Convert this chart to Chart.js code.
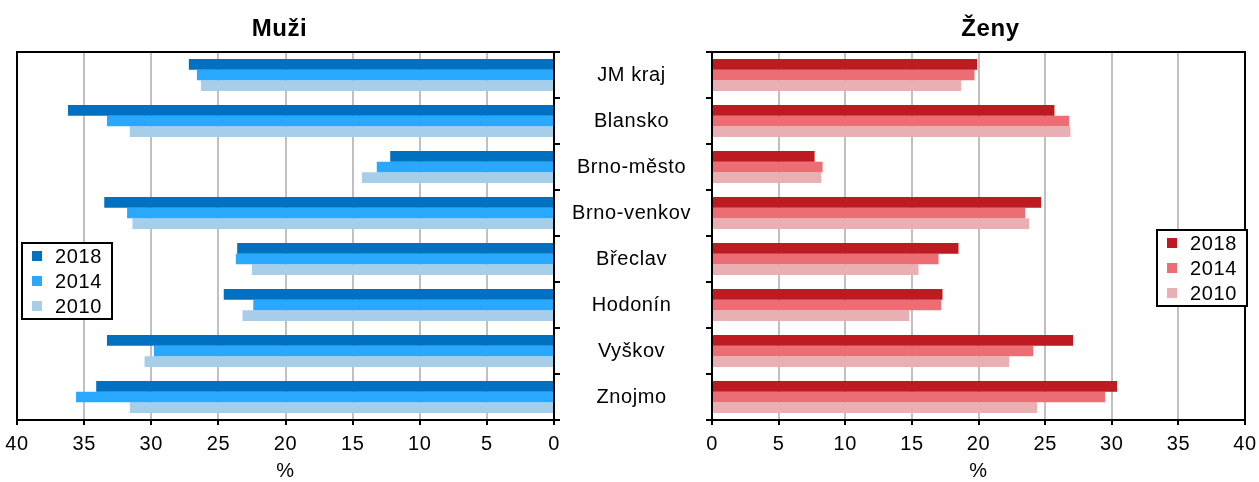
<!DOCTYPE html>
<html>
<head>
<meta charset="utf-8">
<script src="https://cdn.jsdelivr.net/npm/chart.js@4"></script>
<style>
    body { margin: 0; background: #fff; width: 1259px; height: 482px; position: relative; overflow: hidden; }
    .box { position: absolute; top: 0; height: 482px; }
</style>
</head>
<body>
<div class="box" style="left:0; width:575px;"><canvas id="muzi-chart"></canvas></div>
<div class="box" style="left:560px; width:699px;"><canvas id="zeny-chart"></canvas></div>
<script>
    // okresy JM kraje
    const districts = ['JM kraj', 'Blansko', 'Brno-město', 'Brno-venkov', 'Břeclav', 'Hodonín', 'Vyškov', 'Znojmo'];
    const years = ['2018', '2014', '2010'];
    const xTicks = [0, 5, 10, 15, 20, 25, 30, 35, 40];

    // Muži (%)
    const muzi2018 = [27.2, 36.2, 12.2, 33.5, 23.6, 24.6, 33.3, 34.1];
    const muzi2014 = [26.6, 33.3, 13.2, 31.8, 23.7, 22.4, 29.8, 35.6];
    const muzi2010 = [26.3, 31.6, 14.3, 31.4, 22.5, 23.2, 30.5, 31.6];

    // Ženy (%)
    const zeny2018 = [19.9, 25.7, 7.7, 24.7, 18.5, 17.3, 27.1, 30.4];
    const zeny2014 = [19.7, 26.8, 8.3, 23.5, 17.0, 17.2, 24.1, 29.5];
    const zeny2010 = [18.7, 26.9, 8.2, 23.8, 15.5, 14.8, 22.3, 24.4];

    const blueColors = ['#0070c0', '#29a8ff', '#a6cee8'];
    const redColors = ['#be1a22', '#ec6d74', '#e8b0b3'];

    const FONT = '"Liberation Sans", Arial, sans-serif';
    Chart.defaults.font.family = FONT;
    Chart.defaults.font.size = 20;
    Chart.defaults.color = '#000';

    // rámeček, nadpis a legenda uvnitř grafu
    const framePlugin = {
        id: 'framePlugin',
        beforeLayout(chart) { if ('letterSpacing' in chart.ctx) chart.ctx.letterSpacing = '0.6px'; },
        beforeDraw(chart) { if ('letterSpacing' in chart.ctx) chart.ctx.letterSpacing = '0.6px'; },
        afterDraw(chart, args, opts) {
            const ctx = chart.ctx;
            const a = chart.chartArea;
            ctx.save();
            ctx.strokeStyle = '#000';
            ctx.lineWidth = 2;
            ctx.strokeRect(a.left, a.top, a.right - a.left, a.bottom - a.top);

            // nadpis
            ctx.fillStyle = '#000';
            ctx.font = 'bold 24px ' + FONT;
            ctx.textAlign = 'center';
            ctx.textBaseline = 'alphabetic';
            ctx.fillText(opts.title, (a.left + a.right) / 2 + opts.titleShift, 36);

            // legenda
            const w = 90, h = 76;
            const bx = opts.legendSide === 'left' ? a.left + 5 : a.right - w + 2;
            const by = opts.legendTop;
            ctx.fillStyle = '#fff';
            ctx.fillRect(bx, by, w, h);
            ctx.strokeRect(bx, by, w, h);
            ctx.font = '20px ' + FONT;
            ctx.textAlign = 'left';
            ctx.textBaseline = 'middle';
            chart.data.datasets.forEach((ds, i) => {
                const cy = by + 13 + i * 25;
                ctx.fillStyle = ds.backgroundColor;
                ctx.fillRect(bx + 10, cy - 5, 10, 10);
                ctx.fillStyle = '#000';
                ctx.fillText(ds.label, bx + 33, cy + 1);
            });
            ctx.restore();
        }
    };

    function makeDatasets(series, colors) {
        return series.map((data, i) => ({
            label: years[i],
            data: data,
            backgroundColor: colors[i],
            borderWidth: 0,
            categoryPercentage: 0.7,
            barPercentage: 1.0
        }));
    }

    function renderChart(canvasId, series, colors, side) {
        const isLeft = side === 'left';
        const ctx = document.getElementById(canvasId).getContext('2d');
        return new Chart(ctx, {
            type: 'bar',
            data: { labels: districts, datasets: makeDatasets(series, colors) },
            plugins: [framePlugin],
            options: {
                indexAxis: 'y',
                responsive: true,
                maintainAspectRatio: false,
                animation: false,
                layout: { padding: isLeft ? { left: 17, right: 15, top: 52, bottom: 0 } : { left: 0, right: 0, top: 52, bottom: 0 } },
                scales: {
                    x: {
                        min: 0, max: 40,
                        reverse: isLeft,
                        afterBuildTicks: (scale) => { scale.ticks = xTicks.map(v => ({ value: v })); },
                        afterFit: (scale) => {
                            scale.height = 62;
                            if (!isLeft) scale.paddingRight = 14;
                        },
                        ticks: { padding: 7, font: { size: 20 }, maxRotation: 0 },
                        grid: { color: '#c0c0c0', lineWidth: 2, tickColor: '#000', tickLength: 5, tickWidth: 2 },
                        border: { color: '#000', width: 2 },
                        title: { display: true, text: '%', font: { size: 20, lineHeight: 1.05 }, padding: 0 }
                    },
                    y: {
                        position: isLeft ? 'right' : 'left',
                        ticks: isLeft ? { display: false } : { padding: 15, crossAlign: 'center', font: { size: 20 } },
                        grid: { offset: true, drawOnChartArea: false, drawTicks: true, tickLength: 6, color: '#000', lineWidth: 2 },
                        border: { color: '#000', width: 2 },
                        afterFit: isLeft ? undefined : (scale) => { scale.width = 152; }
                    }
                },
                plugins: {
                    legend: { display: false },
                    tooltip: { enabled: true },
                    framePlugin: {
                        title: isLeft ? 'Muži' : 'Ženy',
                        titleShift: isLeft ? -6 : 12,
                        legendSide: side,
                        legendTop: isLeft ? 243 : 230
                    }
                }
            }
        });
    }

    renderChart('muzi-chart', [muzi2018, muzi2014, muzi2010], blueColors, 'left');
    renderChart('zeny-chart', [zeny2018, zeny2014, zeny2010], redColors, 'right');
</script>
</body>
</html>
